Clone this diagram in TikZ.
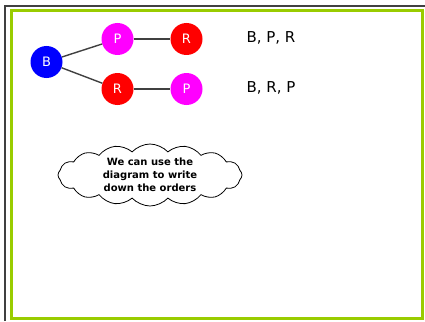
\documentclass[tikz,border=0pt]{standalone}
\usepackage{fontspec}
\setmainfont{DejaVu Sans}
\usetikzlibrary{shapes.symbols}
\definecolor{frameg}{HTML}{99CC00}
\definecolor{pink}{HTML}{FF00FF}
\definecolor{bblue}{HTML}{0000FF}
\definecolor{rred}{HTML}{FF0000}
\begin{document}
\begin{tikzpicture}[x=1pt,y=-1pt,
  ball/.style={circle,minimum size=32pt,inner sep=0pt,text=white,font=\fontsize{13}{14}\selectfont},
  edge/.style={draw=black!75,line width=1.4pt},
  order/.style={anchor=west,font=\fontsize{15}{16}\selectfont},
  thought/.style={cloud,cloud puffs=16,cloud puff arc=95,aspect=3,draw=black,fill=white,line width=0.8pt,minimum width=184pt,minimum height=62pt,align=center,font=\bfseries\fontsize{10}{13}\selectfont,inner sep=0pt}]
\useasboundingbox (0,0) rectangle (425,321);
\fill[white] (0,0) rectangle (425,321);
\draw[black!75,line width=2pt] (5,321) -- (5,6) -- (425,6);
\draw[frameg,line width=3pt] (11,11) rectangle (422,318);
\node[ball,fill=bblue] (b) at (46.5,62) {B};
\node[ball,fill=pink] (p1) at (117.5,39) {P};
\node[ball,fill=rred] (r1) at (186.5,39) {R};
\node[ball,fill=rred] (r2) at (117.5,89) {R};
\node[ball,fill=pink] (p2) at (186.5,89) {P};
\draw[edge] (b) -- (p1);
\draw[edge] (b) -- (r2);
\draw[edge] (p1) -- (r1);
\draw[edge] (r2) -- (p2);
\node[order] (o1) at (243,38) {B, P, R};
\node[order] (o2) at (243,88) {B, R, P};
\node[thought] (c) at (150,175) {We can use the\\diagram to write\\down the orders};
\end{tikzpicture}
\end{document}
